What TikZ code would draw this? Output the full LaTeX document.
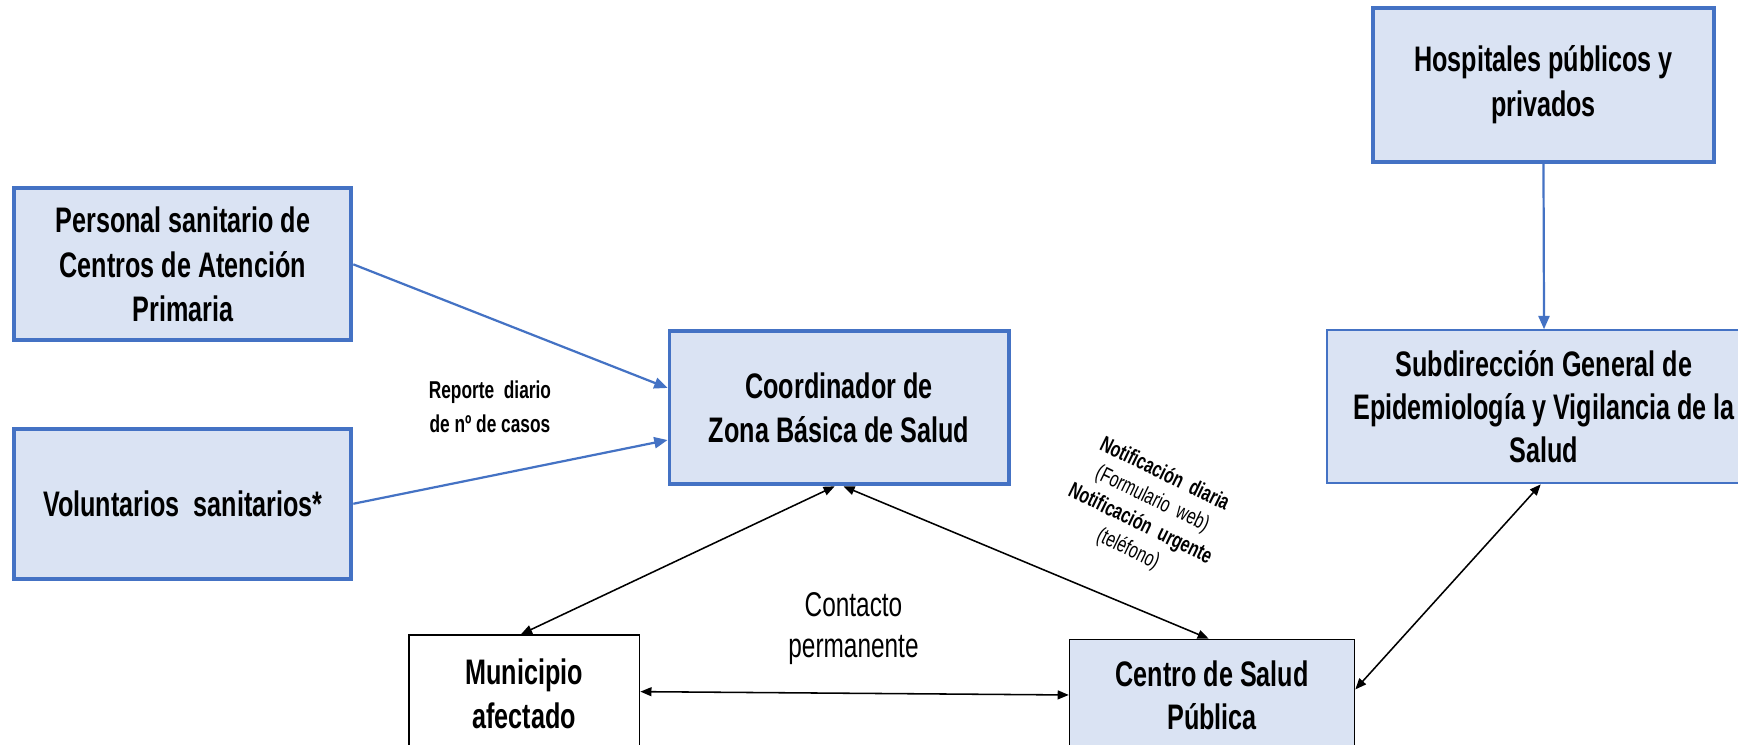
\documentclass[tikz,border=0pt]{standalone}
\usepackage{fontspec}
\setmainfont{Liberation Sans}[FakeStretch=0.71]
\usetikzlibrary{arrows.meta,calc}
\definecolor{boxfill}{HTML}{DAE3F3}
\definecolor{boxblue}{HTML}{4472C4}
\begin{document}
\begin{tikzpicture}[x=0.5pt,y=-0.5pt,
  bluebox/.style={draw=boxblue,fill=boxfill,line width=1.75pt,align=center,inner sep=0pt,
    font=\fontsize{16}{20}\selectfont\bfseries},
  thinblue/.style={draw=boxblue,fill=boxfill,line width=1pt,align=center,inner sep=0pt,
    font=\fontsize{16}{19.5}\selectfont\bfseries},
  blackbox/.style={draw=black,line width=0.75pt,align=center,inner sep=0pt,
    font=\fontsize{16}{19.5}\selectfont\bfseries},
  bluearrow/.style={draw=boxblue,line width=1pt,-{Triangle[length=6pt,width=5pt]}},
  blackarrow/.style={draw=black,line width=0.7pt,{Triangle[length=5pt,width=4pt]}-{Triangle[length=5pt,width=4pt]}},
  lbl/.style={align=center,inner sep=0pt}]
\useasboundingbox (0,0) rectangle (1568,672);
\clip (0,0) rectangle (1568,672);
\fill[white] (0,0) rectangle (1568,672);

\node[bluebox,minimum width=152pt,minimum height=68.5pt] (pers) at (165,238.5)
  {Personal sanitario de\\Centros de Atención\\Primaria};
\node[bluebox,minimum width=152pt,minimum height=67.5pt] (vol) at (165,454.5)
  {Voluntarios\ \ sanitarios*};
\node[bluebox,minimum width=153pt,minimum height=69pt] (coord) at (757,368)
  {Coordinador\ de\\Zona Básica de Salud};
\node[bluebox,minimum width=153.5pt,minimum height=69.5pt] (hosp) at (1392.5,76.5)
  {Hospitales públicos y\\privados};
\node[thinblue,minimum width=196pt,minimum height=69pt] (sub) at (1393,367)
  {Subdirección General de\\Epidemiología y Vigilancia de la\\Salud};
\node[blackbox,fill=white,minimum width=104pt,minimum height=53pt] (mun) at (473,626)
  {Municipio\\afectado};
\node[blackbox,fill=boxfill,minimum width=128.5pt,minimum height=50pt] (csp) at (1093.5,627)
  {Centro de Salud\\Pública};

\node[lbl,font=\fontsize{11}{15}\selectfont\bfseries] (rep) at (442,367)
  {Reporte\ \ diario\\de nº de casos};
\node[lbl,font=\fontsize{15.5}{18.5}\selectfont] (cont) at (770,567)
  {Contacto\\permanente};
\node[lbl,rotate=-26,font=\fontsize{10}{12.5}\selectfont] (notif) at (1034,462)
  {{\bfseries Notificación\ \ diaria}\\
   (Formulario\ \ web)\\
   {\bfseries Notificación\ \ urgente}\\
   (teléfono)};

\draw[bluearrow] (pers.east) -- ([yshift=9pt]coord.west);
\draw[bluearrow] (vol.east) -- ([yshift=-14.5pt]coord.west);
\draw[bluearrow] (hosp.south) -- (sub.north);
\draw[blackarrow] ([xshift=-2pt]coord.south) -- ([xshift=-1.5pt]mun.north);
\draw[blackarrow] ([xshift=2pt]coord.south) -- ([xshift=-1.5pt]csp.north);
\draw[blackarrow] ([yshift=1pt]mun.east) -- (csp.west);
\draw[blackarrow] ([xshift=-1.5pt]sub.south) -- ([yshift=2.5pt]csp.east);
\end{tikzpicture}
\end{document}
